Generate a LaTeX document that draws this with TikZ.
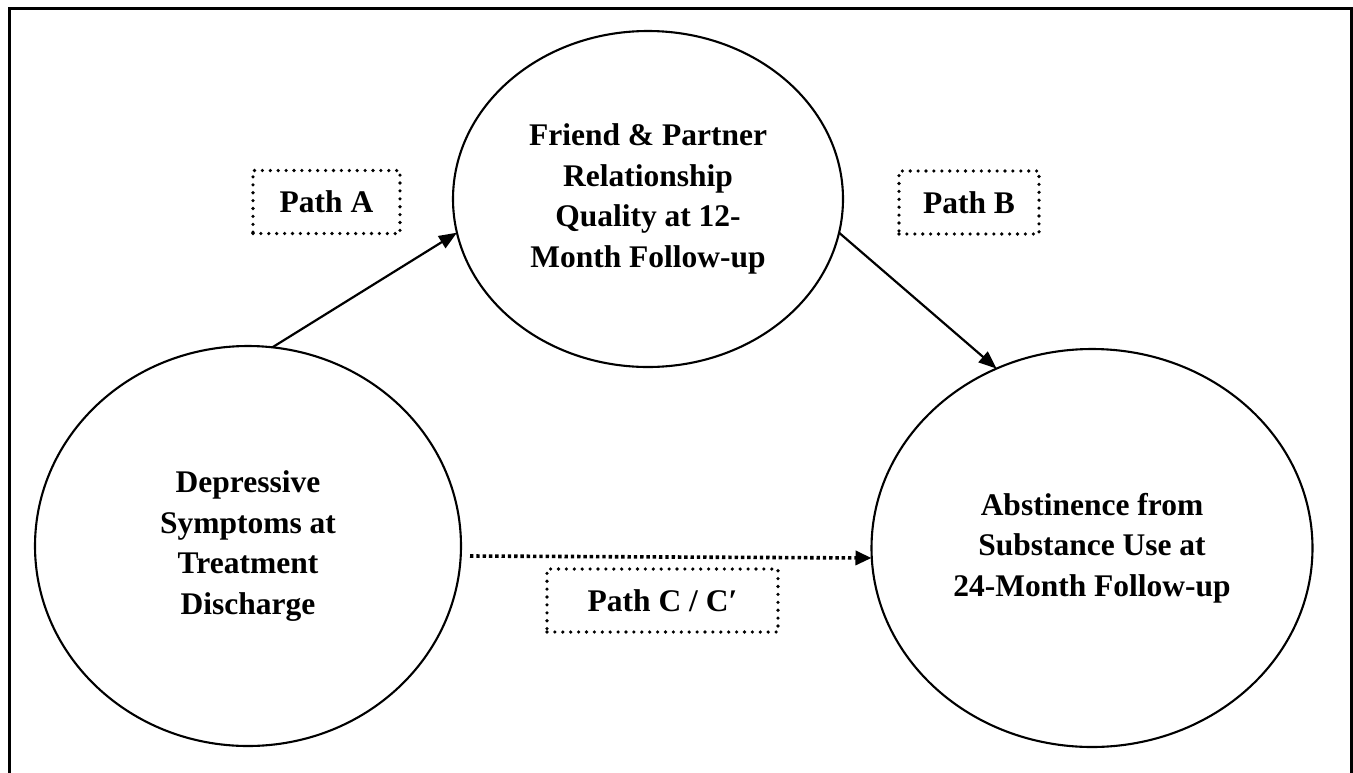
\documentclass[tikz,border=0pt]{standalone}
\usepackage{fontspec}
\setmainfont{Liberation Serif}
\usetikzlibrary{shapes.geometric,arrows.meta}
\begin{document}
\begin{tikzpicture}[x=1pt,y=-1pt,
  every node/.style={font=\fontsize{31.5}{40.7}\selectfont\bfseries},
  bubble/.style={ellipse,draw,line width=2.1pt,inner sep=0pt,outer sep=0pt,align=center},
  pathbox/.style={draw,line width=3.6pt,line cap=round,dash pattern=on 0pt off 7.9pt,minimum height=63pt,inner sep=0pt,outer sep=0pt},
  solidarrow/.style={line width=2.2pt,-{Triangle[length=18pt,width=14pt]}},
  dotarrow/.style={line width=3.6pt,dash pattern=on 3.4pt off 2.9pt,-{Triangle[length=16pt,width=14pt]}}
]
\path[use as bounding box] (0,0) rectangle (1353,772);
\draw[line width=3pt] (9,775) -- (9,8) -- (1351,8) -- (1351,775);

\node[bubble,minimum width=426pt,minimum height=400pt] (dep) at (248,546)
  {Depressive\\Symptoms at\\Treatment\\Discharge};
\node[bubble,minimum width=390pt,minimum height=336pt] (fr) at (648,199)
  {Friend \& Partner\\Relationship\\Quality at 12-\\Month Follow-up};
\node[bubble,minimum width=441pt,minimum height=398pt] (abs) at (1092,548)
  {Abstinence from\\Substance Use at\\24-Month Follow-up};

\node[pathbox,minimum width=147pt] (pa) at (326.5,202) {Path A};
\node[pathbox,minimum width=140pt] (pb) at (969,202.5) {Path B};
\node[pathbox,minimum width=231pt] (pc) at (662.5,600.5) {Path C / C′};

\draw[solidarrow] (dep.83.4) -- (fr.190.4);
\draw[solidarrow] (fr.-10.3) -- (abs.118);
\draw[dotarrow] ([xshift=9pt,yshift=-10pt]dep.east) -- ([yshift=-10pt]abs.west);
\end{tikzpicture}
\end{document}
